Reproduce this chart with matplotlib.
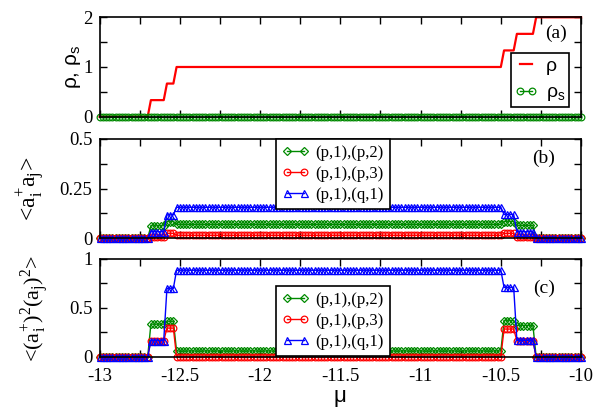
import numpy as np
import matplotlib
matplotlib.use("Agg")
import matplotlib.pyplot as plt
from matplotlib.ticker import MultipleLocator, FixedLocator

plt.rcParams['mathtext.fontset'] = 'custom'
plt.rcParams['mathtext.rm'] = 'Liberation Serif'
plt.rcParams['mathtext.sf'] = 'Liberation Sans'
plt.rcParams['font.family'] = ['Liberation Serif', 'DejaVu Serif']

# ---- data (piecewise-constant plateaus) ----
mu = np.round(np.arange(-13.0, -10.0 + 1e-9, 0.02), 4)
region_edges = [-12.69, -12.59, -12.53, -10.49, -10.41, -10.29]

rho_levels   = [0, 1/3, 2/3, 1, 4/3, 5/3, 2]
rhos_levels  = [0, 0, 0, 0, 0, 0, 0]

b_p2_levels = [0, 0.063, 0.084, 0.070, 0.084, 0.065, 0]
b_p3_levels = [0, 0.005, 0.025, 0.015, 0.025, 0.005, 0]
b_q1_levels = [0, 0.033, 0.118, 0.156, 0.120, 0.033, 0]

c_p2_levels = [0, 0.335, 0.365, 0.061, 0.37, 0.32, 0]
c_p3_levels = [0, 0.165, 0.295, 0.0, 0.285, 0.165, 0]
c_q1_levels = [0, 0.168, 0.70, 0.885, 0.71, 0.17, 0]

labels_pair = ['(p,1),(p,2)', '(p,1),(p,3)', '(p,1),(q,1)']
x_ticks = [-13, -12.5, -12, -11.5, -11, -10.5, -10]
x_ticklabels = ['-13', '-12.5', '-12', '-11.5', '-11', '-10.5', '-10']

region = np.searchsorted(region_edges, mu)
def series(levels):
    return np.asarray(levels)[region]

GREEN = '#008a00'
RED = '#ff0000'
BLUE = '#0000ff'

fig = plt.figure(figsize=(6.05, 4.07), dpi=100)
L, W = 0.1645, 0.796
axa = fig.add_axes([L, 0.7133, W, 0.2442])
axb = fig.add_axes([L, 0.4145, W, 0.2440])
axc = fig.add_axes([L, 0.1229, W, 0.2408])

ms = 4.8
mew = 0.9
tick_fs = 13.5

def style(ax, ymax, yticks, yticklabels, ymin, labels_x):
    ax.set_xlim(-13, -10)
    ax.set_ylim(0, ymax)
    ax.xaxis.set_major_locator(FixedLocator(x_ticks))
    ax.xaxis.set_minor_locator(MultipleLocator(0.25))
    ax.yaxis.set_major_locator(FixedLocator(yticks))
    ax.yaxis.set_minor_locator(MultipleLocator(ymin))
    ax.set_yticklabels(yticklabels)
    ax.tick_params(which='both', direction='in', top=True, right=True,
                   length=5, width=1.0, labelsize=tick_fs, pad=5)
    ax.tick_params(axis='x', pad=8)
    for s in ax.spines.values():
        s.set_linewidth(1.2)
        s.set_zorder(5)
    if labels_x:
        ax.set_xticklabels(x_ticklabels)
    else:
        ax.tick_params(labelbottom=False)

legend_kw = dict(numpoints=2, handlelength=1.6, fancybox=False, framealpha=1,
                 edgecolor='black', fontsize=12, labelspacing=0.3,
                 handletextpad=0.4, borderpad=0.35, borderaxespad=0)

# ---- panel (a) ----
axa.plot(mu, series(rho_levels), color=RED, lw=1.6, label='ρ', clip_on=False, zorder=3)
axa.plot(mu, series(rhos_levels), color=GREEN, lw=1.0, marker='o', ms=ms, mew=mew,
         mfc='none', label='ρ$_\\mathsf{s}$', clip_on=False, zorder=4)
style(axa, 2, [0, 1, 2], ['0', '1', '2'], 0.5, False)
axa.set_ylabel('ρ, ρ$_\\mathsf{s}$', family=['Liberation Sans', 'DejaVu Sans'], fontsize=15)
axa.yaxis.set_label_coords(-0.035, 0.5)
leg = axa.legend(loc='lower right', bbox_to_anchor=(0.975, 0.095), numpoints=2,
                 handlelength=1.2, fancybox=False, framealpha=1, edgecolor='black',
                 prop={'family': ['Liberation Sans', 'DejaVu Sans'], 'size': 14},
                 labelspacing=0.45, handletextpad=0.4, borderpad=0.2, borderaxespad=0)
leg.get_frame().set_linewidth(1.2)
axa.text(0.948, 0.84, '(a)', transform=axa.transAxes, ha='center', va='center', fontsize=14)

# ---- panels (b) and (c) ----
def pair_panel(ax, p2, p3, q1):
    ax.plot(mu, series(p2), color=GREEN, lw=1.0, marker='D', ms=ms*0.85, mew=mew,
            mfc='none', label=labels_pair[0], clip_on=False, zorder=3)
    ax.plot(mu, series(p3), color=RED, lw=1.0, marker='o', ms=ms, mew=mew,
            mfc='none', label=labels_pair[1], clip_on=False, zorder=3)
    ax.plot(mu, series(q1), color=BLUE, lw=1.0, marker='^', ms=ms*1.05, mew=mew,
            mfc='none', label=labels_pair[2], clip_on=False, zorder=3)

pair_panel(axb, b_p2_levels, b_p3_levels, b_q1_levels)
style(axb, 0.5, [0, 0.25, 0.5], ['0', '0.25', '0.5'], 0.125, False)
axb.set_ylabel('<a$_\\mathrm{i}^\\mathrm{+}$a$_\\mathrm{j}$>', fontsize=17)
axb.yaxis.set_label_coords(-0.11, 0.5)
legb = axb.legend(loc='upper left', bbox_to_anchor=(0.367, 1.0), **legend_kw)
legb.get_frame().set_linewidth(1.2)
axb.text(0.923, 0.81, '(b)', transform=axb.transAxes, ha='center', va='center', fontsize=14)

pair_panel(axc, c_p2_levels, c_p3_levels, c_q1_levels)
style(axc, 1, [0, 0.5, 1], ['0', '0.5', '1'], 0.25, True)
axc.set_ylabel('<(a$_\\mathrm{i}^\\mathrm{+}$)$^\\mathrm{2}$(a$_\\mathrm{j}$)$^\\mathrm{2}$>', fontsize=16)
axc.yaxis.set_label_coords(-0.10, 0.5)
axc.set_xlabel('μ', family=['Liberation Sans', 'DejaVu Sans'], fontsize=16, labelpad=1)
legc = axc.legend(loc='upper left', bbox_to_anchor=(0.367, 0.72), **legend_kw)
legc.get_frame().set_linewidth(1.2)
axc.text(0.923, 0.70, '(c)', transform=axc.transAxes, ha='center', va='center', fontsize=14)

fig.savefig('out.png', dpi=100)
